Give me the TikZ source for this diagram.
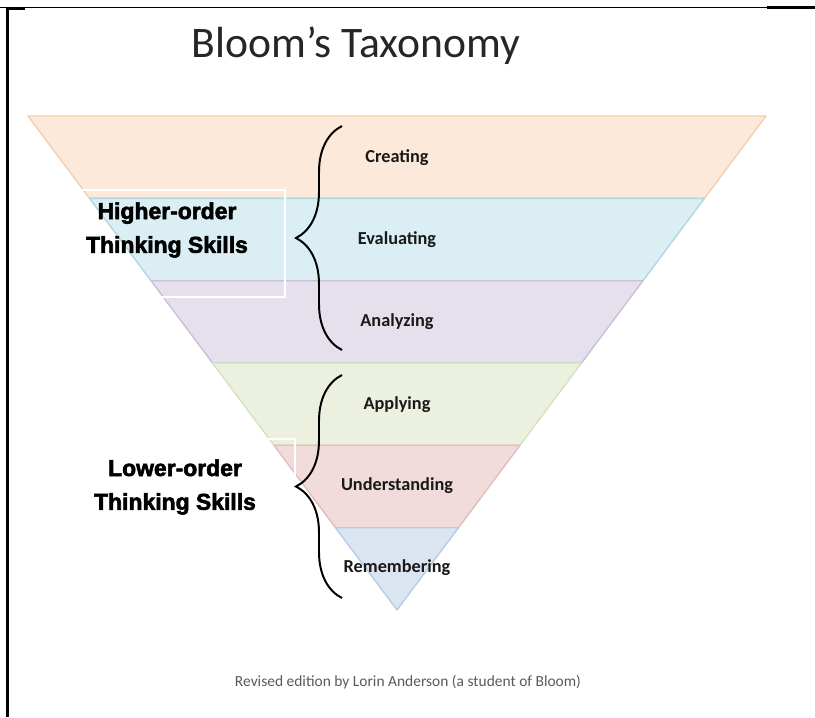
\documentclass[tikz,border=0pt]{standalone}
\usepackage{fontspec}
\setmainfont{Carlito}
\newfontfamily\heavyfont{Liberation Sans}[BoldFeatures={FakeBold=2.5}]
\usetikzlibrary{decorations.pathreplacing,positioning}

\definecolor{createfill}{HTML}{FDE9D9}
\definecolor{createline}{HTML}{F6CFAE}
\definecolor{evalfill}{HTML}{DAEEF3}
\definecolor{evalline}{HTML}{B3D7E2}
\definecolor{analyzefill}{HTML}{E5E0EC}
\definecolor{analyzeline}{HTML}{CAC0DA}
\definecolor{applyfill}{HTML}{EBF1DE}
\definecolor{applyline}{HTML}{D5E2BC}
\definecolor{understandfill}{HTML}{F2DCDB}
\definecolor{understandline}{HTML}{E3BDBC}
\definecolor{rememberfill}{HTML}{DBE5F1}
\definecolor{rememberline}{HTML}{B8CCE4}
\definecolor{creditgray}{HTML}{595959}

\begin{document}
\begin{tikzpicture}
    [x=0.025cm, y=-0.025cm,
    % STYLES
    % The band style is used for the layers of the pyramid
    band/.style={line width=1pt, line join=round},
    % The layername style is used to write the name of each layer
    layername/.style={inner sep=0pt, text=black!90, font=\fontsize{13}{15}\selectfont\bfseries},
    % The skills style is used for the two groups of skills on the left
    skills/.style={inner sep=0pt, align=center, font=\heavyfont\fontsize{16.3}{24}\selectfont\bfseries},
    % The skillbrace style is used to draw the curly braces
    skillbrace/.style={decorate, decoration={brace, amplitude=1.15cm}, line width=1.4pt},
    % The skillframe style is used for the white boxes round the skills
    skillframe/.style={draw=white, line width=1pt}]

    \useasboundingbox (0,0) rectangle (815,717);

    % Page rules
    \draw[line width=0.7pt] (0,7) -- (767,7);
    \draw[line width=2pt] (767,7.5) -- (815,7.5);
    \draw[line width=2pt] (7.5,8.5) -- (25,8.5);
    \draw[line width=2pt] (7.5,7) -- (7.5,717);

    % Title
    \node[font=\fontsize{31}{37}\selectfont, text=black!85] (title) at (356,46) {Bloom’s Taxonomy};

    % Draw the layers
    \filldraw[band, fill=createfill, draw=createline] (28,116) -- (766,116) -- (704.5,198.3) -- (89.5,198.3) -- cycle;
    \filldraw[band, fill=evalfill, draw=evalline] (89.5,198.3) -- (704.5,198.3) -- (643,280.7) -- (151,280.7) -- cycle;
    \filldraw[band, fill=analyzefill, draw=analyzeline] (151,280.7) -- (643,280.7) -- (581.5,363) -- (212.5,363) -- cycle;
    \filldraw[band, fill=applyfill, draw=applyline] (212.5,363) -- (581.5,363) -- (520,445.3) -- (274,445.3) -- cycle;
    \filldraw[band, fill=understandfill, draw=understandline] (274,445.3) -- (520,445.3) -- (458.5,527.7) -- (335.5,527.7) -- cycle;
    \filldraw[band, fill=rememberfill, draw=rememberline] (335.5,527.7) -- (458.5,527.7) -- (397,610) -- cycle;

    % Layer names
    \node[layername] (creating) at (397,158) {Creating};
    \node[layername] (evaluating) at (397,240) {Evaluating};
    \node[layername] (analyzing) at (397,322) {Analyzing};
    \node[layername] (applying) at (397,405) {Applying};
    \node[layername] (understanding) at (397,486) {Understanding};
    \node[layername] (remembering) at (397,568) {Remembering};

    % Boxes round the skills
    \draw[skillframe] (80,190) rectangle (285,297);
    \draw[skillframe] (60,439) rectangle (295,540);

    % Skills
    \node[skills] (higher) at (167,230) {Higher-order\\Thinking Skills};
    \node[skills] (lower) at (175,487) {Lower-order\\Thinking Skills};

    % Braces
    \coordinate (hightop) at (342,126);
    \coordinate (highbottom) at (342,350);
    \coordinate (lowtop) at (342,375);
    \coordinate (lowbottom) at (342,598);
    \draw[skillbrace] (highbottom) -- (hightop);
    \draw[skillbrace] (lowbottom) -- (lowtop);

    % Credit
    \node[text=creditgray, font=\fontsize{11}{13}\selectfont] (credit) at (408,682) {Revised edition by Lorin Anderson (a student of Bloom)};
\end{tikzpicture}
\end{document}
